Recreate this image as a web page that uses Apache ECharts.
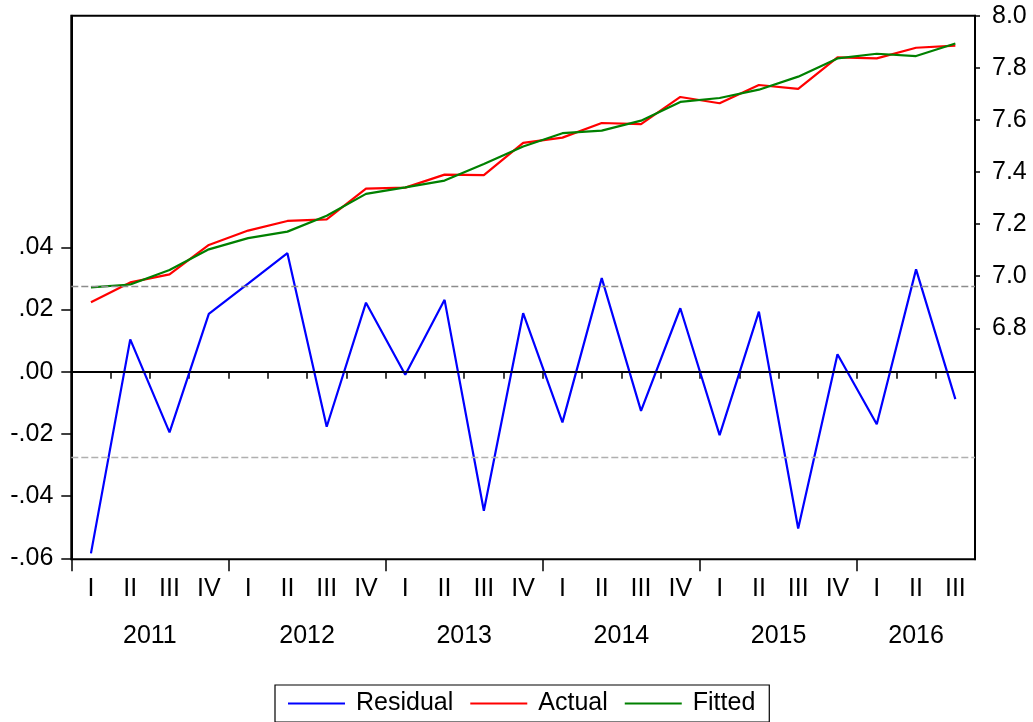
<!DOCTYPE html>
<html><head><meta charset="utf-8">
<script src="https://cdn.jsdelivr.net/npm/echarts@6/dist/echarts.min.js"></script>
<style>html,body{margin:0;padding:0;background:#fff}#c{width:1033px;height:722px}</style>
</head><body><div id="c"></div>
<script>
const years = ['2011','2012','2013','2014','2015','2016'];
const quartersPerYear = [4,4,4,4,4,3];
const quarterNames = ['I','II','III','IV'];
const residual = [-0.0584,0.0104,-0.0195,0.0186,0.0283,0.0381,-0.0177,0.0222,-0.0010,0.0231,-0.0447,0.0188,
                  -0.0163,0.0301,-0.0126,0.0204,-0.0204,0.0193,-0.0504,0.0056,-0.0169,0.0329,-0.0088];
const actual = [6.900,6.976,7.007,7.120,7.175,7.212,7.218,7.336,7.340,7.390,7.388,7.512,
                7.532,7.588,7.584,7.688,7.664,7.734,7.719,7.840,7.836,7.877,7.885];
const fitted = [6.957,6.968,7.024,7.103,7.146,7.171,7.232,7.316,7.341,7.367,7.431,7.498,
                7.549,7.559,7.597,7.669,7.684,7.716,7.766,7.836,7.854,7.845,7.893];
const residualBand = 0.0274;
const leftTicks = [-0.06,-0.04,-0.02,0,0.02,0.04];
const rightTicks = [6.8,7.0,7.2,7.4,7.6,7.8,8.0];

const categories = [];
const yearBounds = [];
const yearCenters = [];
years.forEach((y, k) => {
  const start = categories.length;
  yearBounds.push(start);
  for (let q = 0; q < quartersPerYear[k]; q++) categories.push(quarterNames[q]);
  yearCenters.push((start + categories.length) / 2);
});
const nCat = categories.length;

const FONT = 'Liberation Sans, Arial, sans-serif';
const FS = 25;
const fmtLeft = v => {
  const s = Math.abs(v).toFixed(2).replace(/^0/, '');
  return (v < -1e-9 ? '-' : '') + s;
};

const chart = echarts.init(document.getElementById('c'), null, {renderer: 'canvas'});
chart.setOption({
  animation: false,
  backgroundColor: '#fff',
  textStyle: {fontFamily: FONT},
  grid: {left: 71.3, right: 58, top: 15.7, bottom: 162.7, show: true, borderColor: '#000', borderWidth: 2, backgroundColor: 'transparent'},
  legend: {
    left: 275, top: 685,
    data: [
      {name: 'Residual', icon: 'rect', itemStyle: {color: '#0000ff'}},
      {name: 'Actual', icon: 'rect', itemStyle: {color: '#ff0000'}},
      {name: 'Fitted', icon: 'rect', itemStyle: {color: '#008000'}}
    ],
    itemWidth: 57, itemHeight: 2, itemGap: 17,
    padding: [6, 14, 6, 13],
    borderColor: '#000', borderWidth: 1.2,
    textStyle: {fontSize: FS, color: '#000', fontFamily: FONT, padding: [0,0,0,6]}
  },
  xAxis: [{
    type: 'category', data: categories, boundaryGap: true, position: 'bottom',
    axisLine: {lineStyle: {color: '#000', width: 2}},
    axisTick: {show: true, interval: 0, length: 7, lineStyle: {color: '#000', width: 1.5}},
    axisLabel: {interval: 0, fontSize: FS, color: '#000', margin: 17, fontFamily: FONT},
    splitLine: {show: false}
  }, {
    type: 'value', min: 0, max: nCat, position: 'bottom',
    axisLine: {show: false},
    axisTick: {show: true, customValues: yearBounds, length: 12, lineStyle: {color: '#000', width: 1.5}},
    axisLabel: {show: true, customValues: yearCenters, fontSize: FS, color: '#000', margin: 64, fontFamily: FONT,
      formatter: v => { const i = yearCenters.findIndex(c => Math.abs(c - v) < 1e-6); return i >= 0 ? years[i] : ''; }},
    splitLine: {show: false}
  }],
  yAxis: [{
    type: 'value', min: -0.06032, max: 0.11447, position: 'left',
    axisLine: {show: true, lineStyle: {color: '#000', width: 2}},
    axisTick: {show: true, customValues: leftTicks, length: 10, lineStyle: {color: '#000', width: 1.5}},
    axisLabel: {customValues: leftTicks, formatter: fmtLeft, fontSize: FS, color: '#000', margin: 18, fontFamily: FONT},
    splitLine: {show: false}
  }, {
    type: 'value', min: 5.913, max: 8.0, position: 'right',
    axisLine: {show: true, lineStyle: {color: '#000', width: 2}},
    axisTick: {show: true, customValues: rightTicks, length: 5, lineStyle: {color: '#000', width: 1.5}},
    axisLabel: {customValues: rightTicks, formatter: v => v.toFixed(1), fontSize: FS, color: '#000', margin: 17, fontFamily: FONT},
    splitLine: {show: false}
  }],
  series: [{
    name: 'Residual', type: 'line', xAxisIndex: 0, yAxisIndex: 0, data: residual,
    symbol: 'none', lineStyle: {color: '#0000ff', width: 2.2}, itemStyle: {color: '#0000ff'},
    z: 3,
    markLine: {
      silent: true, symbol: 'none', label: {show: false}, animation: false, precision: 6,
      data: [
        {yAxis: 0, lineStyle: {color: '#000', width: 1.5, type: 'solid'}},
        {yAxis: residualBand, lineStyle: {color: '#8c8c8c', width: 1.3, type: [7, 3]}},
        {yAxis: -residualBand, lineStyle: {color: '#b0b0b0', width: 1.3, type: [7, 3]}}
      ]
    }
  }, {
    name: 'Actual', type: 'line', xAxisIndex: 0, yAxisIndex: 1, data: actual,
    symbol: 'none', lineStyle: {color: '#ff0000', width: 2.2}, itemStyle: {color: '#ff0000'}, z: 3
  }, {
    name: 'Fitted', type: 'line', xAxisIndex: 0, yAxisIndex: 1, data: fitted,
    symbol: 'none', lineStyle: {color: '#008000', width: 2.2}, itemStyle: {color: '#008000'}, z: 4
  }]
});
</script></body></html>
